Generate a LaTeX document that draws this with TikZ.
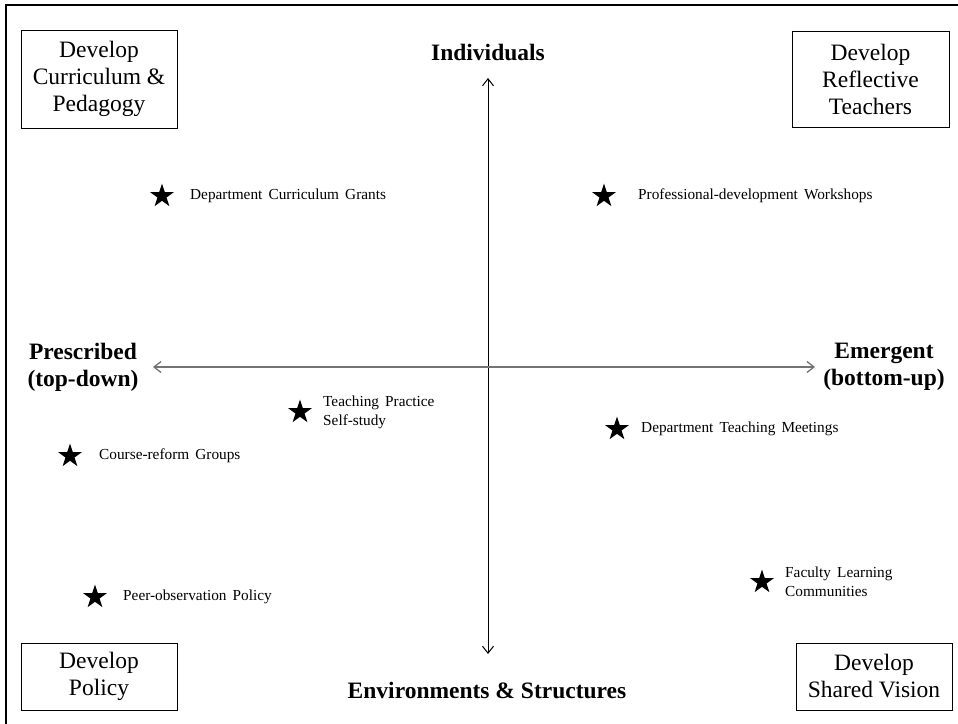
\documentclass[tikz,border=0pt]{standalone}
\usepackage{fontspec}
\setmainfont{Liberation Serif}
\newfontfamily\lblfont[WordSpace=1.6]{Liberation Serif}
\usetikzlibrary{shapes.geometric, arrows.meta}

\tikzset{
    goal/.style={draw, line width=0.9pt, inner sep=0pt, align=center,
        font=\fontsize{23.5}{27}\selectfont},
    axislbl/.style={inner sep=0pt, align=center,
        font=\fontsize{23.5}{27}\selectfont\bfseries},
    starmark/.style={star, star points=5, star point ratio=2.6, fill=black,
        minimum size=25pt, inner sep=0pt},
    item/.style={anchor=west, inner sep=0pt, align=left,
        font=\lblfont\fontsize{15.3}{19}\selectfont},
    axis/.style={line width=1pt,
        {Straight Barb[length=7pt,width=11pt]}-{Straight Barb[length=7pt,width=11pt]}}
}

\begin{document}
\begin{tikzpicture}[x=1pt, y=-1pt]
            \useasboundingbox (0,0) rectangle (958,723);
            % frame
            \draw [line width=2.5pt] (6,760) -- (6,5) -- (990,5);
            % goals in the corners
            \node [goal, minimum width=156pt, minimum height=98pt] (curr) at (99,79) {Develop\\Curriculum \&\\Pedagogy};
            \node [goal, minimum width=157pt, minimum height=96pt] (refl) at (870.5,79) {Develop\\Reflective\\Teachers};
            \node [goal, minimum width=156pt, minimum height=67pt] (pol) at (99,676.5) {Develop\\Policy};
            \node [goal, minimum width=156pt, minimum height=67pt] (vis) at (874,676.5) {Develop\\Shared Vision};
            % axes
            \node [axislbl] (indiv) at (488,52) {Individuals};
            \node [axislbl] (env) at (487,690) {Environments \& Structures};
            \node [axislbl] (presc) at (83,367) {Prescribed\\(top-down)};
            \node [axislbl] (emerg) at (884,367) {Emergent\\(bottom-up)};
            \coordinate (ytop) at (488,78);
            \coordinate (ybot) at (488,654);
            \coordinate (xleft) at (153,367);
            \coordinate (xright) at (815,367);
            \draw [axis] (ybot) -- (ytop);
            \draw [axis, black!55, line width=1.3pt] (xleft) -- (xright);
            % strategies
            \node [starmark] (s1) at (162,196) {};
            \node [item] (t1) at (190,196) {Department Curriculum Grants};
            \node [starmark] (s2) at (604,196) {};
            \node [item] (t2) at (638,196) {Professional-development Workshops};
            \node [starmark] (s3) at (300,412) {};
            \node [item] (t3) at (323,412) {Teaching Practice\\Self-study};
            \node [starmark] (s4) at (70,456) {};
            \node [item] (t4) at (99,456) {Course-reform Groups};
            \node [starmark] (s5) at (617,429) {};
            \node [item] (t5) at (641,429) {Department Teaching Meetings};
            \node [starmark] (s6) at (762,582) {};
            \node [item] (t6) at (785,582) {Faculty Learning\\Communities};
            \node [starmark] (s7) at (95,597) {};
            \node [item] (t7) at (123,597) {Peer-observation Policy};
\end{tikzpicture}
\end{document}
